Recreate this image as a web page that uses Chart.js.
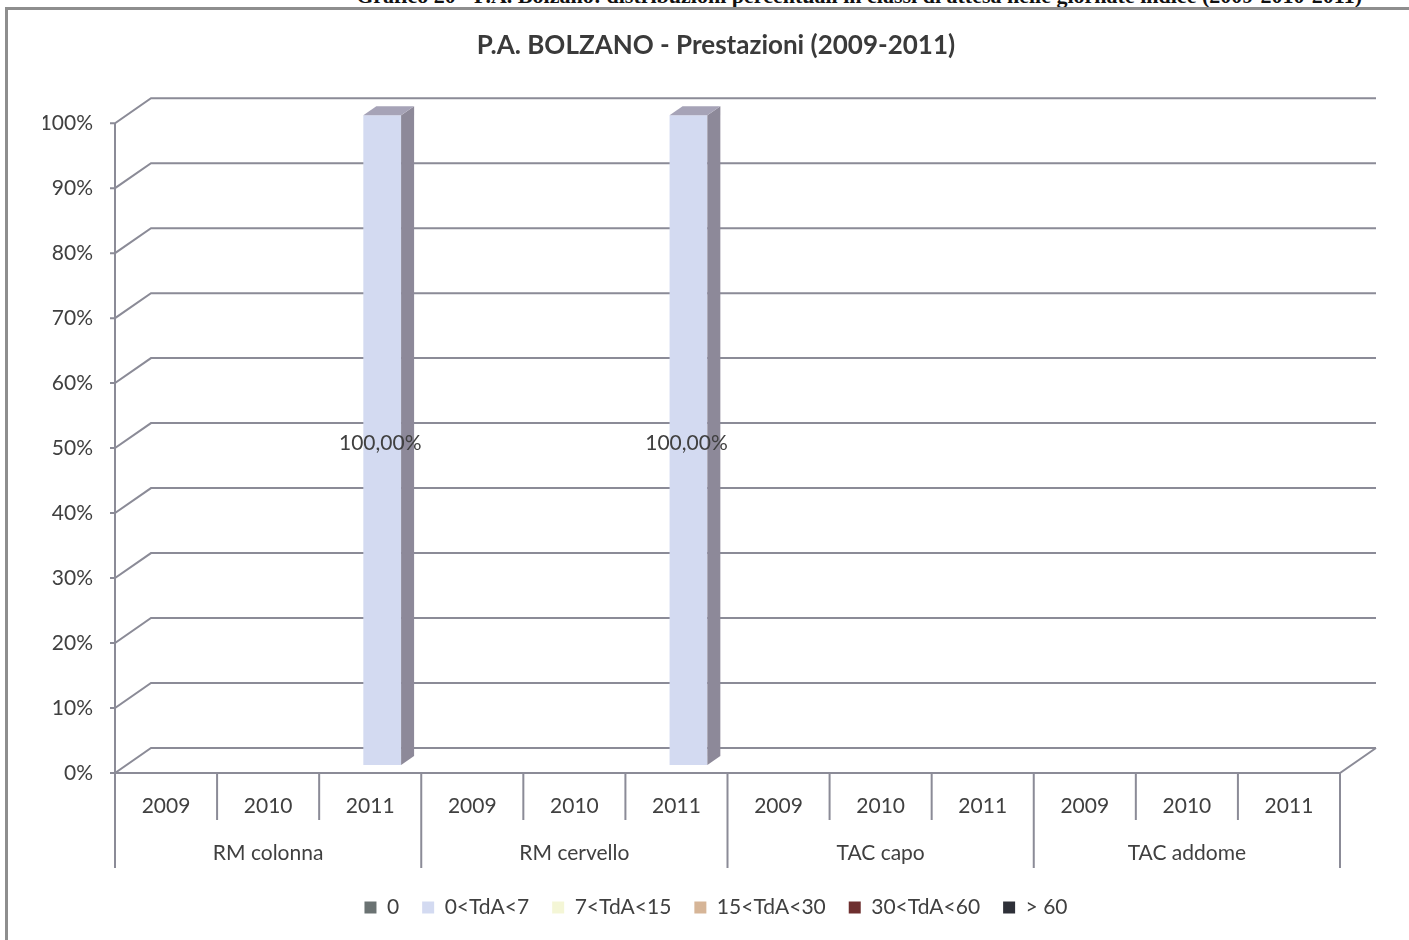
<!DOCTYPE html>
<html>
<head>
<meta charset="utf-8">
<script src="https://cdn.jsdelivr.net/npm/chart.js@4.4.1/dist/chart.umd.min.js"></script>
<style>
  html, body { margin: 0; padding: 0; background: #fff; overflow: hidden; }
  #page { position: relative; width: 1409px; height: 940px; overflow: hidden; }
  #caption { position: absolute; right: 47px; top: -15px; font: bold 22px "Liberation Serif", serif; line-height: 22px; white-space: nowrap; color: #111; }
  #frame { position: absolute; left: 5px; top: 7px; width: 1440px; height: 980px; border: 3px solid #8e8e8e; }
  canvas { position: absolute; left: 0; top: 0; }
</style>
</head>
<body>
<div id="page">
  <div id="caption">Grafico 20 - P.A. Bolzano: distribuzioni percentuali in classi di attesa nelle giornate indice (2009-2010-2011)</div>
  <div id="frame"></div>
  <canvas id="chart" width="1409" height="940"></canvas>
</div>
<script>
// categories: three years inside each exam group
const years = ['2009', '2010', '2011']
const groups = ['RM colonna', 'RM cervello', 'TAC capo', 'TAC addome']
const categories = ['2009', '2010', '2011', '2009', '2010', '2011', '2009', '2010', '2011', '2009', '2010', '2011']

const seriesNames = ['0', '0<TdA<7', '7<TdA<15', '15<TdA<30', '30<TdA<60', '> 60']
const zeroDays   = [0, 0, 0,   0, 0, 0,   0, 0, 0, 0, 0, 0]
const upTo7      = [0, 0, 100, 0, 0, 100, 0, 0, 0, 0, 0, 0]
const upTo15     = [0, 0, 0,   0, 0, 0,   0, 0, 0, 0, 0, 0]
const upTo30     = [0, 0, 0,   0, 0, 0,   0, 0, 0, 0, 0, 0]
const upTo60     = [0, 0, 0,   0, 0, 0,   0, 0, 0, 0, 0, 0]
const over60     = [0, 0, 0,   0, 0, 0,   0, 0, 0, 0, 0, 0]

const yTicks = [0, 10, 20, 30, 40, 50, 60, 70, 80, 90, 100]

const colors = ['#6a7272', '#d3daf1', '#f4f6d6', '#d6b597', '#6e2f2f', '#2e3038']
const sideColors = ['#4e5454', '#8d8999', '#b8b99e', '#a08464', '#4a1e1e', '#1c1e24']
const topColors = ['#5c6262', '#a6a3b7', '#d0d2b4', '#bc9c7c', '#5a2626', '#24262c']

const font = 'Lato'
const textColor = '#404040'
const lineColor = '#8b8b97'

// 3D look: back wall offset, bar offset and bar depth
const depth = { x: 36, y: -25 }
const barShift = { x: 12, y: -8 }
const barDepth = { x: 13, y: -9 }

const wall3d = {
  id: 'wall3d',
  beforeDatasetsDraw(chart) {
    const { ctx, chartArea: a, scales } = chart
    const y = scales.y, x = scales.x
    const y0 = y.getPixelForValue(0)
    ctx.save()
    ctx.strokeStyle = lineColor
    ctx.lineWidth = 2
    ctx.beginPath()
    // back wall grid + diagonals to the front axis
    yTicks.forEach(v => {
      const py = y.getPixelForValue(v)
      ctx.moveTo(a.left - 5, py)
      ctx.lineTo(a.left, py)
      ctx.lineTo(a.left + depth.x, py + depth.y)
      ctx.lineTo(a.right + depth.x, py + depth.y)
    })
    // floor
    ctx.moveTo(a.left, y0)
    ctx.lineTo(a.right, y0)
    ctx.lineTo(a.right + depth.x, y0 + depth.y)
    // front value axis
    ctx.moveTo(a.left, y.getPixelForValue(100))
    ctx.lineTo(a.left, y0)
    // category dividers, longer at group bounds
    const half = (x.getPixelForValue(1) - x.getPixelForValue(0)) / 2
    for (let i = 0; i <= categories.length; i++) {
      const px = i < categories.length ? x.getPixelForValue(i) - half : x.getPixelForValue(i - 1) + half
      ctx.moveTo(px, y0)
      ctx.lineTo(px, y0 + (i % years.length === 0 ? 95 : 47))
    }
    ctx.stroke()
    ctx.restore()

    // bars sit in the middle of the depth
    ctx.save()
    ctx.translate(barShift.x, barShift.y)
  },
  afterDatasetsDraw(chart) {
    const ctx = chart.ctx
    chart.data.datasets.forEach((ds, di) => {
      const meta = chart.getDatasetMeta(di)
      meta.data.forEach((bar, i) => {
        if (!ds.data[i]) return
        const { x, y, base, width } = bar.getProps(['x', 'y', 'base', 'width'], true)
        const l = x - width / 2, r = x + width / 2
        ctx.fillStyle = sideColors[di]
        ctx.beginPath()
        ctx.moveTo(r, y)
        ctx.lineTo(r + barDepth.x, y + barDepth.y)
        ctx.lineTo(r + barDepth.x, base + barDepth.y)
        ctx.lineTo(r, base)
        ctx.closePath()
        ctx.fill()
        ctx.fillStyle = topColors[di]
        ctx.beginPath()
        ctx.moveTo(l, y)
        ctx.lineTo(r, y)
        ctx.lineTo(r + barDepth.x, y + barDepth.y)
        ctx.lineTo(l + barDepth.x, y + barDepth.y)
        ctx.closePath()
        ctx.fill()
        // value label
        ctx.fillStyle = textColor
        ctx.font = '21px ' + font
        ctx.textAlign = 'center'
        ctx.textBaseline = 'middle'
        ctx.fillText(ds.data[i].toFixed(2).replace('.', ',') + '%', x - 2, (y + base) / 2 + 3)
      })
    })
    ctx.restore()
  }
}

const seriesData = [zeroDays, upTo7, upTo15, upTo30, upTo60, over60]

new Chart(document.getElementById('chart'), {
  type: 'bar',
  data: {
    labels: categories,
    datasets: seriesNames.map((name, i) => ({
      label: name,
      data: seriesData[i],
      backgroundColor: colors[i],
      borderWidth: 0,
      categoryPercentage: 1,
      barPercentage: 0.37,
      clip: false
    }))
  },
  options: {
    responsive: false,
    animation: false,
    devicePixelRatio: 1,
    layout: { padding: { left: 43, right: 20, top: 0, bottom: 12 } },
    plugins: {
      title: {
        display: true,
        text: 'P.A. BOLZANO - Prestazioni (2009-2011)',
        color: '#3a3a3a',
        font: { family: font, size: 26, weight: 'bold' },
        padding: { top: 30, bottom: 62 }
      },
      legend: {
        position: 'bottom',
        labels: {
          color: textColor,
          font: { family: font, size: 21 },
          boxWidth: 12,
          boxHeight: 12,
          padding: 23
        }
      },
      tooltip: { enabled: false }
    },
    scales: {
      x: {
        type: 'category',
        stacked: true,
        offset: true,
        weight: 0,
        grid: { display: false },
        border: { display: false },
        ticks: { color: textColor, font: { family: font, size: 21 }, padding: 13, maxRotation: 0, autoSkip: false },
        afterFit: s => { s.height = 60 }
      },
      x2: {
        type: 'category',
        labels: groups,
        position: 'bottom',
        offset: true,
        weight: 1,
        grid: { display: false },
        border: { display: false },
        ticks: { color: textColor, font: { family: font, size: 21 }, padding: 0, maxRotation: 0 },
        afterFit: s => { s.height = 41 }
      },
      y: {
        stacked: true,
        min: 0,
        max: 100,
        grid: { display: false },
        border: { display: false },
        ticks: { stepSize: 10, color: textColor, font: { family: font, size: 21 }, padding: 14, callback: v => v + '%' },
        afterFit: s => { s.width = 72 }
      },
      y2: {
        type: 'linear',
        position: 'right',
        grid: { display: false },
        border: { display: false },
        ticks: { display: false },
        afterFit: s => { s.width = 49 }
      }
    }
  },
  plugins: [wall3d]
})
</script>
</body>
</html>
